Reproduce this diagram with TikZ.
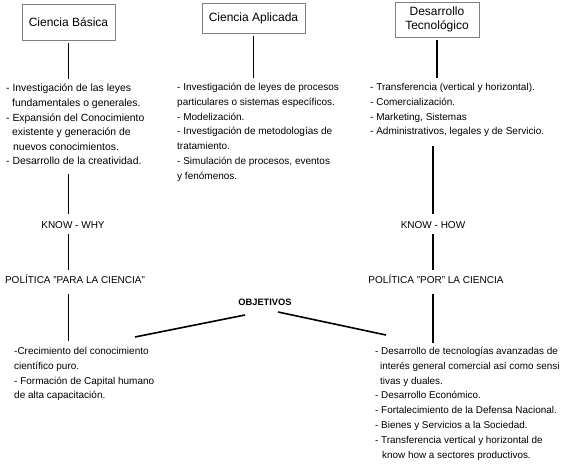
\documentclass[tikz,border=0pt]{standalone}
\usepackage{fontspec}
\setmainfont{Liberation Sans}
\usetikzlibrary{positioning}

\begin{document}
\begin{tikzpicture}[x=1pt,y=-1pt,
  caja/.style={draw=gray,line width=0.8pt,inner sep=0pt,align=center,font=\fontsize{12}{14}\selectfont},
  lista/.style={anchor=north west,align=left,inner sep=0pt,font=\fontsize{10}{14.8}\selectfont},
  etiq/.style={inner sep=0pt,text height=8pt,text depth=2pt,font=\fontsize{10}{12}\selectfont},
  linea/.style={line width=1.6pt,shorten <=3pt,shorten >=5pt}]
\useasboundingbox (0,0) rectangle (563,466);

% cajas de arriba
\node[caja,minimum width=93pt,minimum height=36pt] (basica) at (68.5,22) {Ciencia Básica};
\node[caja,minimum width=103pt,minimum height=30pt] (aplicada) at (253.5,18) {Ciencia Aplicada};
\node[caja,minimum width=84pt,minimum height=35pt] (desarrollo) at (437,19.5) {Desarrollo\\Tecnológico};

% listas
\node[lista,font=\fontsize{10.4}{14.6}\selectfont] (basicatxt) at (6,84) {- Investigación de las leyes\\
\hspace*{6pt}fundamentales o generales.\\
- Expansión del Conocimiento\\
\hspace*{6pt}existente y generación de\\
\hspace*{7pt}nuevos conocimientos.\\
- Desarrollo de la creatividad.};
\node[lista] (aplicadatxt) at (177,83) {- Investigación de leyes de procesos\\
particulares o sistemas específicos.\\
- Modelización.\\
- Investigación de metodologías de\\
tratamiento.\\
- Simulación de procesos, eventos\\
y fenómenos.};
\node[lista] (tectxt) at (370,83) {- Transferencia (vertical y horizontal).\\
- Comercialización.\\
- Marketing, Sistemas\\
- Administrativos, legales y de Servicio.};

% know why / know how
\node[etiq] (kwhy) at (73,225) {KNOW - WHY};
\node[etiq] (khow) at (433,225) {KNOW - HOW};
\node[etiq] (paraciencia) at (75,280) {POLÍTICA "PARA LA CIENCIA"};
\node[etiq] (porciencia) at (436,280) {POLÍTICA "POR" LA CIENCIA};

% objetivos
\node[inner sep=0pt,font=\fontsize{9.3}{11}\selectfont\bfseries] (objetivos) at (265,302) {OBJETIVOS};
\node[lista] (basicaobj) at (14,347) {-Crecimiento del conocimiento\\
científico puro.\\
- Formación de Capital humano\\
de alta capacitación.};
\node[lista,font=\fontsize{9.9}{14.8}\selectfont] (tecobj) at (375,347) {- Desarrollo de tecnologías avanzadas de\\
\hspace*{5pt}interés general comercial así como sensi\\
\hspace*{5pt}tivas y duales.\\
- Desarrollo Económico.\\
- Fortalecimiento de la Defensa Nacional.\\
- Bienes y Servicios a la Sociedad.\\
- Transferencia vertical y horizontal de\\
\hspace*{7pt}know how a sectores productivos.};
\coordinate (objL) at (135,337);
\coordinate (objR) at (386,335);

% lineas
\draw[linea] (basica) -- (basica |- basicatxt.north);
\draw[linea] (aplicada) -- (aplicada |- aplicadatxt.north);
\draw[linea] (desarrollo) -- (desarrollo |- tectxt.north);
\draw[linea,shorten <=9pt,shorten >=6pt] (basicatxt.south -| basica.south) -- (kwhy.north -| basica.south);
\draw[linea,shorten <=4pt,shorten >=5pt] (kwhy.south -| basica.south) -- (paraciencia.north -| basica.south);
\draw[linea,shorten <=9pt,shorten >=6pt] (paraciencia.south -| basica.south) -- (basicaobj.north -| basica.south);
\draw[linea,shorten <=9pt,shorten >=6pt] (tectxt.south -| khow.south) -- (khow.north);
\draw[linea,shorten <=4pt,shorten >=5pt] (khow.south) -- (porciencia.north -| khow.south);
\draw[linea,shorten <=9pt,shorten >=4pt] (porciencia.south -| khow.south) -- (tecobj.north -| khow.south);
\draw[line width=1.6pt] ([shift={(-20,13)}]objetivos.center) -- (objL);
\draw[line width=1.6pt] ([shift={(13,10)}]objetivos.center) -- (objR);
\end{tikzpicture}
\end{document}
